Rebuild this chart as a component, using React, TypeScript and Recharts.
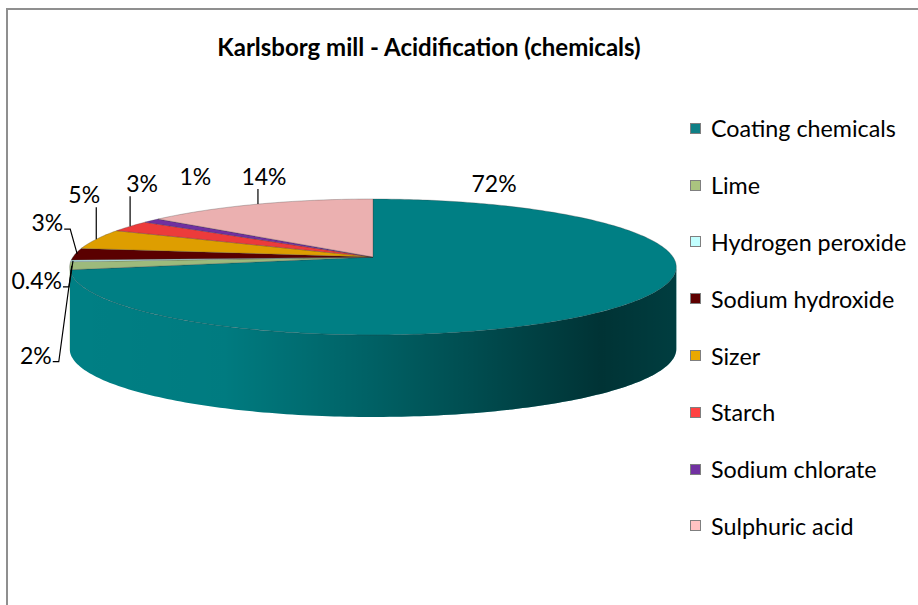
import { PieChart, Pie, Legend } from 'recharts'

const CATEGORIES = [
    'Coating chemicals',
    'Lime',
    'Hydrogen peroxide',
    'Sodium hydroxide',
    'Sizer',
    'Starch',
    'Sodium chlorate',
    'Sulphuric acid'
]
const SHARES = [72.0, 1.9, 0.4, 2.8, 4.8, 2.7, 1.1, 14.3]

const LEGEND_COLORS = ['#0F7F86', '#AAC47F', '#C2FFFF', '#5E0000', '#E9A800', '#FF4242', '#7131A1', '#FFC3C3']
const TOP_COLORS = ['#007F84', '#9DBA7C', '#BFF3F5', '#5A0000', '#DE9E00', '#EC3B3B', '#7030A0', '#EBB0B0']

// 3d look: vertical squash, a bit of perspective, wall height
const TILT = 0.2217
const PERSP = 0.147
const DEPTH = 82
const FONT = 'Lato, "Open Sans", sans-serif'

// label placement relative to the rim point of each slice: dx, dy, anchor, leader line
const LABEL_NUDGE: [number, number, 'middle' | 'end', boolean][] = [
    [-134, -121, 'middle', false],
    [-18, 89, 'end', true],
    [-9, 19, 'end', true],
    [-12, -32, 'end', true],
    [-12, -45, 'middle', true],
    [12, -43, 'middle', true],
    [44, -45, 'middle', false],
    [6, -28, 'middle', true]
]

const data = CATEGORIES.map((name, i) => ({ name, value: SHARES[i] }))

// theta: degrees clockwise from 12 o'clock
function rim(cx: number, cy: number, r: number, theta: number): [number, number] {
    const t = theta * Math.PI / 180
    const u = Math.sin(t)
    const v = Math.cos(t)
    const k = 1 / (1 + PERSP * v)
    return [cx + r * u * k, cy - r * TILT * v * k]
}

function arcPts(cx: number, cy: number, r: number, a: number, b: number, dy = 0) {
    const n = Math.max(2, Math.ceil(Math.abs(b - a)) + 1)
    const pts: string[] = []
    for (let i = 0; i < n; i++) {
        const [x, y] = rim(cx, cy, r, a + (b - a) * i / (n - 1))
        pts.push(`${x.toFixed(2)},${(y + dy).toFixed(2)}`)
    }
    return pts
}

const FRONT_A = Math.acos(-PERSP) * 180 / Math.PI
const FRONT_B = 360 - FRONT_A

function renderSlice(props: any) {
    const { cx, cy, outerRadius: r, startAngle, endAngle, midAngle, percent, index } = props
    const ts = 90 - startAngle
    const te = 90 - endAngle
    const tm = 90 - midAngle
    const top = `M${cx},${cy} L` + arcPts(cx, cy, r, ts, te).join(' L') + ' Z'

    const a = Math.max(ts, FRONT_A)
    const b = Math.min(te, FRONT_B)
    let wall = ''
    if (a < b) {
        wall = 'M' + arcPts(cx, cy, r, a, b).join(' L') + ' L' + arcPts(cx, cy, r, b, a, DEPTH).join(' L') + ' Z'
    }

    const [ax, ay0] = rim(cx, cy, r, tm)
    const [dx, dy, anchor, leader] = LABEL_NUDGE[index]
    const tx = ax + dx
    const ty = ay0 + dy
    const ay = tm > FRONT_A && tm < FRONT_B ? ay0 + DEPTH * 0.9 : ay0
    const pct = percent * 100
    const text = (pct < 1 ? pct.toFixed(1) : Math.round(pct).toString()) + '%'

    let line = ''
    if (leader) {
        line = anchor === 'end'
            ? `M${tx + 1},${ty + 7} L${tx + 7},${ty + 7} L${ax + 2},${ay}`
            : `M${ax},${ay} L${ax},${ty + 13}`
    }

    return (
        <g key={`slice-${index}`}>
            {index === 0 && (
                <defs>
                    <linearGradient id="wallShade" gradientUnits="userSpaceOnUse" x1={cx - r} x2={cx + r} y1={0} y2={0}>
                        <stop offset="0" stopColor="#000" stopOpacity={0} />
                        <stop offset="0.25" stopColor="#000" stopOpacity={0.03} />
                        <stop offset="0.5" stopColor="#000" stopOpacity={0.24} />
                        <stop offset="0.7" stopColor="#000" stopOpacity={0.43} />
                        <stop offset="0.88" stopColor="#000" stopOpacity={0.6} />
                        <stop offset="1" stopColor="#000" stopOpacity={0.52} />
                    </linearGradient>
                </defs>
            )}
            {wall && <path d={wall} fill={TOP_COLORS[index]} />}
            {wall && <path d={wall} fill="url(#wallShade)" />}
            <path d={top} fill={TOP_COLORS[index]} stroke="rgba(50,50,50,0.35)" strokeWidth={0.8} />
            {line && <path d={line} fill="none" stroke="#000" strokeWidth={1.2} />}
            <text x={tx} y={ty} textAnchor={anchor} dominantBaseline="central"
                fontFamily={FONT} fontSize={23} fill="#000">
                {text}
            </text>
        </g>
    )
}

function LegendBox() {
    return (
        <div style={{ display: 'flex', flexDirection: 'column' }}>
            {CATEGORIES.map((name, i) => (
                <div key={name} style={{ height: 56.8, display: 'flex', alignItems: 'center' }}>
                    <span style={{
                        width: 9, height: 9, border: '1px solid #7f7f7f',
                        background: LEGEND_COLORS[i], marginRight: 10, flex: 'none'
                    }} />
                    <span style={{ fontFamily: FONT, fontSize: 23.3, color: '#000', whiteSpace: 'nowrap' }}>{name}</span>
                </div>
            ))}
        </div>
    )
}

export default function App() {
    return (
        <div style={{ position: 'absolute', left: 0, top: 0, width: 918, height: 605, overflow: 'hidden', background: '#fff' }}>
            <div style={{
                position: 'absolute', left: 6, top: 8, width: 960, height: 660,
                borderLeft: '2px solid #8f8f8f', borderTop: '2px solid #8f8f8f'
            }} />
            <div style={{
                position: 'absolute', left: 0, top: 32, width: 858, height: 30, lineHeight: '30px',
                textAlign: 'center', fontFamily: FONT, fontWeight: 700, fontSize: 24, color: '#000'
            }}>
                Karlsborg mill - Acidification (chemicals)
            </div>
            <div style={{ position: 'absolute', left: 0, top: 0 }}>
                <PieChart width={918} height={605} margin={{ top: 0, right: 0, bottom: 0, left: 0 }}>
                    <Pie
                        data={data}
                        dataKey="value"
                        nameKey="name"
                        cx={373}
                        cy={257}
                        outerRadius={300}
                        startAngle={90}
                        endAngle={-270}
                        fill="none"
                        stroke="none"
                        label={renderSlice}
                        labelLine={false}
                        isAnimationActive={false}
                    />
                    <Legend
                        layout="vertical"
                        verticalAlign="top"
                        align="right"
                        content={() => <LegendBox />}
                        wrapperStyle={{ position: 'absolute', left: 690, top: 100, width: 228 }}
                    />
                </PieChart>
            </div>
        </div>
    )
}
